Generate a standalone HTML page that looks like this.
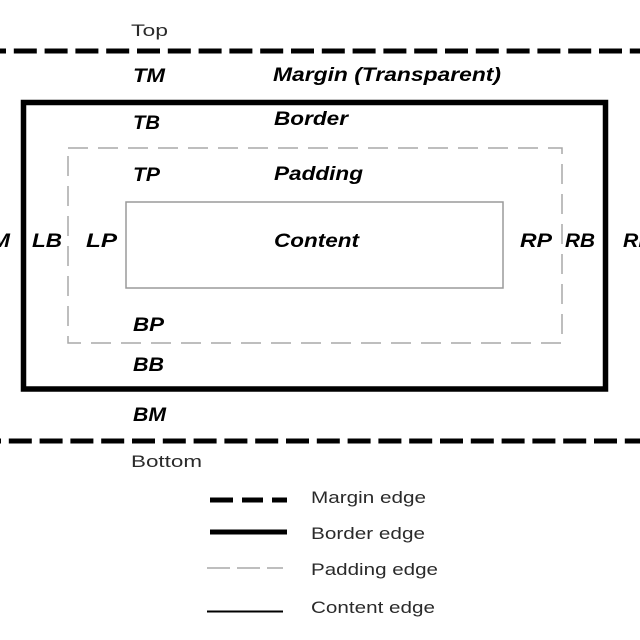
<!DOCTYPE html>
<html>
<head>
<meta charset="utf-8">
<style>
html,body{margin:0;padding:0;background:#fff;}
svg{display:block;}
.b{font-family:"Liberation Sans",Arial,sans-serif;font-weight:bold;font-style:italic;font-size:19px;fill:#000;}
.n{font-family:"Liberation Sans",Arial,sans-serif;font-size:17px;fill:#2a2a2a;}
</style>
</head>
<body>
<svg width="640" height="640" viewBox="0 0 640 640" xmlns="http://www.w3.org/2000/svg">
  <rect width="640" height="640" fill="#fff"/>

  <!-- Margin edges -->
  <line x1="0" y1="51" x2="640" y2="51" stroke="#000" stroke-width="5" stroke-dasharray="23 7.8" stroke-dashoffset="17"/>
  <line x1="0" y1="441" x2="640" y2="441" stroke="#000" stroke-width="5" stroke-dasharray="23 7.8" stroke-dashoffset="22"/>

  <!-- Border edge -->
  <rect x="23.5" y="102.5" width="582" height="286.5" fill="none" stroke="#000" stroke-width="5.5"/>

  <!-- Padding edge -->
  <rect x="68" y="148" width="494" height="195" fill="none" stroke="#a8a8a8" stroke-width="1.5" stroke-dasharray="20 10"/>

  <!-- Content edge -->
  <rect x="126" y="202" width="377" height="86" fill="none" stroke="#9a9a9a" stroke-width="1.5"/>

  <!-- Labels -->
  <text class="n" x="131" y="36" textLength="37" lengthAdjust="spacingAndGlyphs">Top</text>
  <text class="b" x="133" y="82" textLength="32" lengthAdjust="spacingAndGlyphs">TM</text>
  <text class="b" x="273" y="81" textLength="228" lengthAdjust="spacingAndGlyphs">Margin (Transparent)</text>
  <text class="b" x="133" y="129" textLength="27" lengthAdjust="spacingAndGlyphs">TB</text>
  <text class="b" x="274" y="125" textLength="74" lengthAdjust="spacingAndGlyphs">Border</text>
  <text class="b" x="133" y="181" textLength="27" lengthAdjust="spacingAndGlyphs">TP</text>
  <text class="b" x="274" y="180" textLength="89" lengthAdjust="spacingAndGlyphs">Padding</text>
  <text class="b" x="274" y="247" textLength="85" lengthAdjust="spacingAndGlyphs">Content</text>

  <text class="b" x="-22" y="247" textLength="32" lengthAdjust="spacingAndGlyphs">LM</text>
  <text class="b" x="32" y="247" textLength="30" lengthAdjust="spacingAndGlyphs">LB</text>
  <text class="b" x="86" y="247" textLength="31" lengthAdjust="spacingAndGlyphs">LP</text>
  <text class="b" x="520" y="247" textLength="32" lengthAdjust="spacingAndGlyphs">RP</text>
  <text class="b" x="565" y="247" textLength="30" lengthAdjust="spacingAndGlyphs">RB</text>
  <text class="b" x="623" y="247" textLength="33" lengthAdjust="spacingAndGlyphs">RM</text>

  <text class="b" x="133" y="331" textLength="31" lengthAdjust="spacingAndGlyphs">BP</text>
  <text class="b" x="133" y="371" textLength="31" lengthAdjust="spacingAndGlyphs">BB</text>
  <text class="b" x="133" y="421" textLength="33" lengthAdjust="spacingAndGlyphs">BM</text>
  <text class="n" x="131" y="467" textLength="71" lengthAdjust="spacingAndGlyphs">Bottom</text>

  <!-- Legend -->
  <line x1="210" y1="500" x2="233" y2="500" stroke="#000" stroke-width="5"/>
  <line x1="242" y1="500" x2="263" y2="500" stroke="#000" stroke-width="5"/>
  <line x1="272" y1="500" x2="287" y2="500" stroke="#000" stroke-width="5"/>
  <text class="n" x="311" y="503" textLength="115" lengthAdjust="spacingAndGlyphs">Margin edge</text>

  <line x1="210" y1="532" x2="287" y2="532" stroke="#000" stroke-width="5"/>
  <text class="n" x="311" y="539" textLength="114" lengthAdjust="spacingAndGlyphs">Border edge</text>

  <line x1="207" y1="568" x2="230" y2="568" stroke="#a8a8a8" stroke-width="1.5"/>
  <line x1="237" y1="568" x2="260" y2="568" stroke="#a8a8a8" stroke-width="1.5"/>
  <line x1="267" y1="568" x2="283" y2="568" stroke="#a8a8a8" stroke-width="1.5"/>
  <text class="n" x="311" y="575" textLength="127" lengthAdjust="spacingAndGlyphs">Padding edge</text>

  <line x1="207" y1="611.5" x2="283" y2="611.5" stroke="#000" stroke-width="2"/>
  <text class="n" x="311" y="613" textLength="124" lengthAdjust="spacingAndGlyphs">Content edge</text>
</svg>
</body>
</html>
